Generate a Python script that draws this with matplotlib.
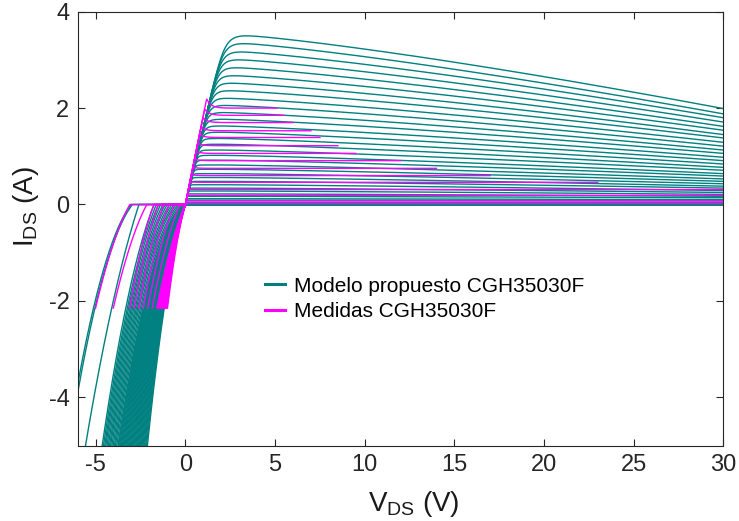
import numpy as np
import matplotlib
matplotlib.use("Agg")
import matplotlib.pyplot as plt
from matplotlib.lines import Line2D

plt.rcParams["font.family"] = ["Liberation Sans", "DejaVu Sans"]
plt.rcParams["mathtext.fontset"] = "custom"
plt.rcParams["mathtext.rm"] = "Liberation Sans"
plt.rcParams["mathtext.it"] = "Liberation Sans"
plt.rcParams["axes.unicode_minus"] = False

TEAL = "#008080"
MAGENTA = "#FF00FF"
AX_COLOR = "#262626"

# ---------------- model curves (one entry per gate-voltage step) ----------------
# current at the knee (A) and current at VDS = 30 V (A) for the conducting curves
model_ipk = [3.55, 3.38, 3.20, 3.03, 2.86, 2.69, 2.53, 2.37, 2.21, 2.06, 1.91,
             1.77, 1.63, 1.50, 1.37, 1.25, 1.13, 1.02, 0.92, 0.82, 0.73, 0.64,
             0.56, 0.48, 0.41, 0.34, 0.28, 0.22, 0.17, 0.12, 0.09, 0.05, 0.03]
model_i30 = [1.99, 1.88, 1.80, 1.71, 1.62, 1.54, 1.45, 1.38, 1.29, 1.21, 1.13,
             1.06, 0.98, 0.91, 0.84, 0.77, 0.71, 0.64, 0.59, 0.53, 0.48, 0.43,
             0.38, 0.34, 0.29, 0.25, 0.21, 0.17, 0.14, 0.10, 0.08, 0.05, 0.03]
# reverse region of the conducting curves: VDS where IDS = -2 A and -5 A
model_on_v2 = [-1.12, -1.15, -1.19, -1.22, -1.26, -1.29, -1.33, -1.36, -1.40,
               -1.43, -1.47, -1.50, -1.54, -1.57, -1.61, -1.64, -1.68, -1.71,
               -1.75, -1.78, -1.82, -1.85, -1.89, -1.92, -1.96, -1.99, -2.03,
               -2.06, -2.10, -2.13, -2.17, -2.20, -2.24]
model_on_v5 = [-2.12, -2.17, -2.22, -2.27, -2.32, -2.37, -2.42, -2.47, -2.52,
               -2.57, -2.62, -2.67, -2.72, -2.77, -2.82, -2.87, -2.92, -2.97,
               -3.02, -3.07, -3.12, -3.17, -3.22, -3.27, -3.32, -3.37, -3.42,
               -3.47, -3.52, -3.57, -3.62, -3.67, -3.72]
# pinched-off curves: reverse turn-on VDS, VDS at -2 A, VDS at -5 A
model_off_von = [-0.12, -0.25, -0.38, -0.50, -0.62, -0.75, -0.88, -1.00,
                 -1.12, -1.25, -1.38, -1.50, -1.62, -1.75, -2.59, -2.95, -3.03]
model_off_v2 = [-2.28, -2.35, -2.42, -2.50, -2.57, -2.64, -2.71, -2.79,
                -2.86, -2.93, -3.00, -3.08, -3.15, -3.24, -4.02, -4.95, -5.03]
model_off_v5 = [-3.76, -3.83, -3.90, -3.96, -4.03, -4.10, -4.17, -4.23,
                -4.30, -4.37, -4.44, -4.50, -4.57, -4.64, -5.57, -6.50, -6.59]

# ---------------- measured curves ----------------
meas_level = [2.00, 1.85, 1.70, 1.53, 1.39, 1.22, 1.06, 0.91, 0.75, 0.60, 0.46,
              0.31, 0.19, 0.08, 0.02]
meas_peak = [2.19, 1.98, 1.80, 1.61, 1.45, 1.27, 1.10, 0.94, 0.77, 0.62, 0.47,
             0.32, 0.19, 0.08, 0.02]
meas_vend = [5.1, 5.5, 6.0, 7.0, 7.5, 8.5, 9.5, 12.0, 14.0, 17.0, 23.0,
             30.0, 30.0, 30.0, 30.0]
meas_on_vneg = [-1.00, -1.04, -1.08, -1.12, -1.16, -1.20, -1.24, -1.28, -1.32,
                -1.36, -1.40, -1.45, -1.50, -1.55, -1.60]
meas_off_von = [-0.30, -0.60, -0.90, -1.20, -1.50, -1.75, -2.15, -3.10]
meas_off_vneg = [-1.85, -2.10, -2.35, -2.60, -2.85, -3.10, -4.02, -5.01]
MEAS_LIMIT = -2.15

G_ON = 1.6      # on-resistance slope (A/V)
KNEE_N = 8      # knee sharpness
G_MEAS = 1.85


def reverse_branch(v, von, v2, v5):
    """Quadratic reverse conduction through (von,0), (v2,-2), (v5,-5)."""
    u2, u5 = von - v2, von - v5
    b = (5 - 2 * u5 / u2) / (u5 ** 2 - u5 * u2)
    a = (2 - b * u2 ** 2) / u2
    u = np.clip(von - v, 0, None)
    return -(a * u + b * u ** 2)


fig = plt.figure(figsize=(7.39, 5.21), dpi=100)
ax = fig.add_axes([77.8 / 739, 1 - 445.5 / 521, (723.4 - 77.8) / 739,
                   (445.5 - 11.7) / 521])

v_neg = np.linspace(-6.2, 0, 300)
v_pos = np.concatenate([np.linspace(0, 4, 300), np.linspace(4, 30, 200)[1:]])

# model, conducting curves
for ipk, i30, v2, v5 in zip(model_ipk, model_i30, model_on_v2, model_on_v5):
    x = G_ON * v_pos / ipk
    s = x / (1 + x ** KNEE_N) ** (1 / KNEE_N)
    t = np.clip((v_pos - 2) / 28, 0, 1)
    plateau = ipk - (ipk - i30) * t ** 1.25
    i_pos = s * plateau
    i_neg = reverse_branch(v_neg, 0.0, v2, v5)
    ax.plot(np.concatenate([v_neg, v_pos]), np.concatenate([i_neg, i_pos]),
            color=TEAL, lw=1.0)

# model, pinched-off curves
for von, v2, v5 in zip(model_off_von, model_off_v2, model_off_v5):
    i_neg = reverse_branch(v_neg, von, v2, v5)
    ax.plot(np.concatenate([v_neg, [30]]), np.concatenate([i_neg, [0]]),
            color=TEAL, lw=1.0)

# measured, conducting curves
for lev, pk, vend, vneg in zip(meas_level, meas_peak, meas_vend, meas_on_vneg):
    vk = pk / G_MEAS
    vp = np.linspace(0, vend, 400)
    rise = np.minimum(G_MEAS * vp, pk)
    settle = lev + (pk - lev) * np.exp(-np.clip(vp - vk, 0, None) / 0.25)
    i_pos = np.where(vp < vk, rise, settle)
    vn = np.linspace(vneg, 0, 100)
    r = -vn / -vneg
    i_neg = MEAS_LIMIT * (0.6 * r + 0.4 * r ** 2)
    ax.plot(np.concatenate([vn, vp]), np.concatenate([i_neg, i_pos]),
            color=MAGENTA, lw=1.0)

# measured, pinched-off curves (reverse region)
for von, vneg in zip(meas_off_von, meas_off_vneg):
    vn = np.linspace(vneg, von, 100)
    r = (von - vn) / (von - vneg)
    i_neg = MEAS_LIMIT * (0.6 * r + 0.4 * r ** 2)
    ax.plot(np.concatenate([vn, [0]]), np.concatenate([i_neg, [0]]),
            color=MAGENTA, lw=1.0)

ax.set_xlim(-6, 30)
ax.set_ylim(-5, 4)
ax.set_xticks([-5, 0, 5, 10, 15, 20, 25, 30])
ax.set_yticks([-4, -2, 0, 2, 4])
ax.tick_params(direction="in", top=True, right=True, length=5, width=0.8,
               labelsize=17, colors=AX_COLOR, pad=6)
for sp in ax.spines.values():
    sp.set_color(AX_COLOR)
    sp.set_linewidth(0.8)

ax.set_xlabel(r"$\mathrm{V_{DS}}$ (V)", fontsize=20, color="#1a1a1a")
ax.set_ylabel(r"$\mathrm{I_{DS}}$ (A)", fontsize=20, color="#1a1a1a")
ax.xaxis.set_label_coords(0.52, -0.1)
ax.yaxis.set_label_coords(-0.057, 0.55)

handles = [Line2D([], [], color=TEAL, lw=2.2),
           Line2D([], [], color=MAGENTA, lw=2.2)]
ax.legend(handles, ["Modelo propuesto CGH35030F", "Medidas CGH35030F"],
          loc="upper left", bbox_to_anchor=(0.29, 0.389), frameon=False,
          fontsize=15, handlelength=0.95, handletextpad=0.45,
          borderpad=0, borderaxespad=0, labelspacing=0.3)

fig.savefig("out.png", dpi=100)
